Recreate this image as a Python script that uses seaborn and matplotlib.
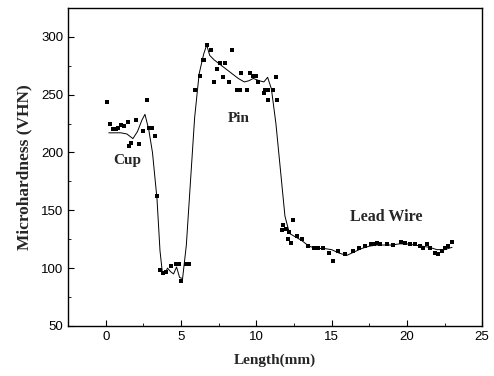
import numpy as np
import pandas as pd
import matplotlib
matplotlib.use("Agg")
import matplotlib.pyplot as plt
from matplotlib.ticker import MultipleLocator
import seaborn as sns

# measured points (mm, VHN)
pt_x = [0.1, 0.27, 0.46, 0.66, 0.8, 1.0, 1.2, 1.45, 1.55, 1.7, 2.0, 2.2, 2.45, 2.75, 2.85, 3.05, 3.25, 3.38,
        3.58, 3.78, 3.98, 4.3, 4.65, 4.85, 5.0, 5.3, 5.5,
        5.9, 6.25, 6.45, 6.55, 6.75, 7.0, 7.2, 7.4, 7.6, 7.8, 7.95, 8.2, 8.4, 8.7, 8.9, 9.0, 9.4, 9.6, 9.8,
        10.0, 10.1, 10.5, 10.6, 10.75, 10.8, 11.1, 11.3, 11.4,
        11.7, 11.8, 12.0, 12.1, 12.15, 12.3, 12.45, 12.7, 13.05, 13.45, 13.8, 14.1, 14.45, 14.8, 15.1, 15.45,
        15.9, 16.4, 16.8, 17.25, 17.6, 17.8, 18.0, 18.2, 18.7, 19.1, 19.6, 19.9, 20.2, 20.55, 20.9, 21.1,
        21.35, 21.55, 21.9, 22.1, 22.35, 22.55, 22.75, 23.0]
pt_y = [244, 225, 220, 220, 221, 224, 223, 226, 206, 208, 228, 207, 219, 245, 221, 221, 214, 162,
        98, 96, 97, 102, 104, 104, 89, 104, 104,
        254, 266, 280, 280, 293, 289, 261, 272, 277, 265, 277, 261, 289, 254, 254, 269, 254, 269, 266,
        266, 261, 251, 254, 254, 245, 254, 265, 245,
        133, 137, 134, 125, 131, 122, 142, 128, 125, 119, 117, 117, 117, 113, 106, 115,
        112, 115, 117, 119, 121, 121, 122, 121, 121, 120, 123, 122, 121, 121, 119, 117,
        121, 117, 113, 112, 115, 117, 119, 123]

# smoothed curve
fit_x = [0.2, 0.6, 1.0, 1.4, 1.8, 2.1, 2.4, 2.6, 2.85, 3.1, 3.4, 3.6, 3.75, 3.9, 4.1, 4.3, 4.5, 4.7, 4.9,
         5.1, 5.35, 5.6, 5.9, 6.2, 6.5, 6.7, 6.9, 7.2, 7.6, 8.0, 8.4, 8.8, 9.2, 9.5, 9.8, 10.2, 10.5, 10.75,
         11.0, 11.3, 11.6, 11.9, 12.2, 12.6, 13.0, 13.5, 14.0, 14.5, 15.0, 15.5, 16.0, 16.5, 17.0, 17.5,
         18.0, 18.5, 19.0, 19.5, 20.0, 20.5, 21.0, 21.5, 22.0, 22.5, 23.0]
fit_y = [217, 217, 217, 216, 212, 218, 228, 233, 220, 200, 160, 115, 97, 95, 100, 97, 95, 101, 92,
         91, 120, 170, 230, 268, 285, 293, 284, 280, 276, 272, 268, 264, 261, 262, 264, 262, 261, 265,
         255, 225, 185, 145, 130, 127, 124, 119, 117, 117, 116, 113, 111, 114, 117, 119,
         120, 120, 120, 121, 121, 120, 119, 118, 116, 116, 118]

sns.set_style("ticks")
plt.rcParams['font.family'] = ['Liberation Sans', 'DejaVu Sans']

fig = plt.figure(figsize=(4.94, 3.76), dpi=100)
ax = fig.add_axes([0.138, 0.133, 0.838, 0.846])

pts = pd.DataFrame({"x": pt_x, "y": pt_y})
fit = pd.DataFrame({"x": fit_x, "y": fit_y})
sns.lineplot(data=fit, x="x", y="y", sort=False, estimator=None, color="black", linewidth=0.7, ax=ax)
sns.scatterplot(data=pts, x="x", y="y", marker="s", s=8, color="black", linewidth=0, ax=ax)

ax.set_xlim(-2.5, 25)
ax.set_ylim(50, 325)
ax.xaxis.set_major_locator(MultipleLocator(5))
ax.xaxis.set_minor_locator(MultipleLocator(2.5))
ax.yaxis.set_major_locator(MultipleLocator(50))
ax.yaxis.set_minor_locator(MultipleLocator(25))
ax.tick_params(which="both", direction="in", labelsize=9.5, colors="black")
ax.tick_params(which="major", length=4)
ax.tick_params(which="minor", length=2)
for sp in ax.spines.values():
    sp.set_visible(True)
    sp.set_linewidth(1.0)
    sp.set_color("black")

serif = dict(family=["Liberation Serif", "DejaVu Serif"], weight="bold")
ax.set_xlabel("Length(mm)", fontsize=11, labelpad=8, **serif)
ax.set_ylabel("Microhardness (VHN)", fontsize=12.5, labelpad=6, **serif)
ax.text(1.45, 193, "Cup", fontsize=11, ha="center", va="center", **serif)
ax.text(8.8, 229, "Pin", fontsize=11, ha="center", va="center", **serif)
ax.text(18.6, 144, "Lead Wire", fontsize=11.5, ha="center", va="center", **serif)

fig.savefig("out.png", dpi=100)
